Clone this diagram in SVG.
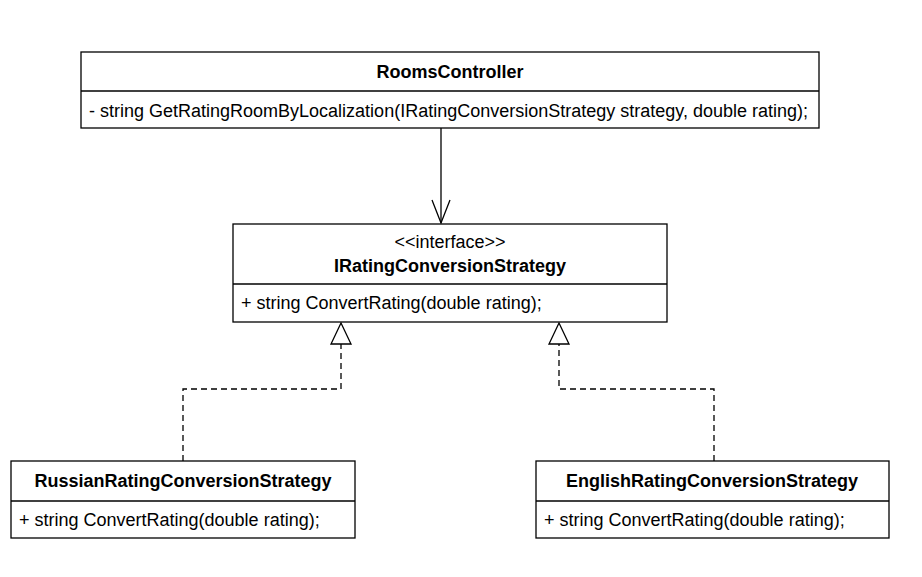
<svg xmlns="http://www.w3.org/2000/svg" width="922" height="577" viewBox="0 0 922 577">
<style>
.box{fill:#fff;stroke:#000;stroke-width:1.3}
.ln{stroke:#000;stroke-width:1.3;fill:none}
.dash{stroke:#000;stroke-width:1.3;fill:none;stroke-dasharray:6,4}
.t{font-family:"Liberation Sans",Arial,sans-serif;font-size:18px;fill:#000}
.b{font-weight:bold;text-anchor:middle}
.c{text-anchor:middle}
</style>
<rect width="922" height="577" fill="#fff"/>
<g id="connectors">
<path class="ln" d="M441 128 V223"/>
<path class="ln" d="M432 200 L441 223 L450 200"/>
<path class="dash" d="M183 461 V389 H341 V344"/>
<path class="box" d="M341 323 L351 344 L331 344 Z"/>
<path class="dash" d="M714 461 V389 H559 V344"/>
<path class="box" d="M559 323 L569 344 L549 344 Z"/>
</g>
<g id="RoomsController">
<rect class="box" x="81" y="52" width="738" height="76"/>
<line class="ln" x1="81" y1="91" x2="819" y2="91"/>
<text class="t b" x="450" y="78">RoomsController</text>
<text class="t" x="89" y="117">- string GetRatingRoomByLocalization(IRatingConversionStrategy strategy, double rating);</text>
</g>
<g id="IRatingConversionStrategy">
<rect class="box" x="233" y="224" width="434" height="98"/>
<line class="ln" x1="233" y1="284" x2="667" y2="284"/>
<text class="t c" x="450" y="248">&lt;&lt;interface&gt;&gt;</text>
<text class="t b" x="450" y="272">IRatingConversionStrategy</text>
<text class="t" x="241" y="309">+ string ConvertRating(double rating);</text>
</g>
<g id="RussianRatingConversionStrategy">
<rect class="box" x="11" y="461" width="344" height="77"/>
<line class="ln" x1="11" y1="501" x2="355" y2="501"/>
<text class="t b" x="183" y="487">RussianRatingConversionStrategy</text>
<text class="t" x="19" y="526">+ string ConvertRating(double rating);</text>
</g>
<g id="EnglishRatingConversionStrategy">
<rect class="box" x="536" y="461" width="353" height="77"/>
<line class="ln" x1="536" y1="501" x2="889" y2="501"/>
<text class="t b" x="712" y="487">EnglishRatingConversionStrategy</text>
<text class="t" x="544" y="526">+ string ConvertRating(double rating);</text>
</g>
</svg>
